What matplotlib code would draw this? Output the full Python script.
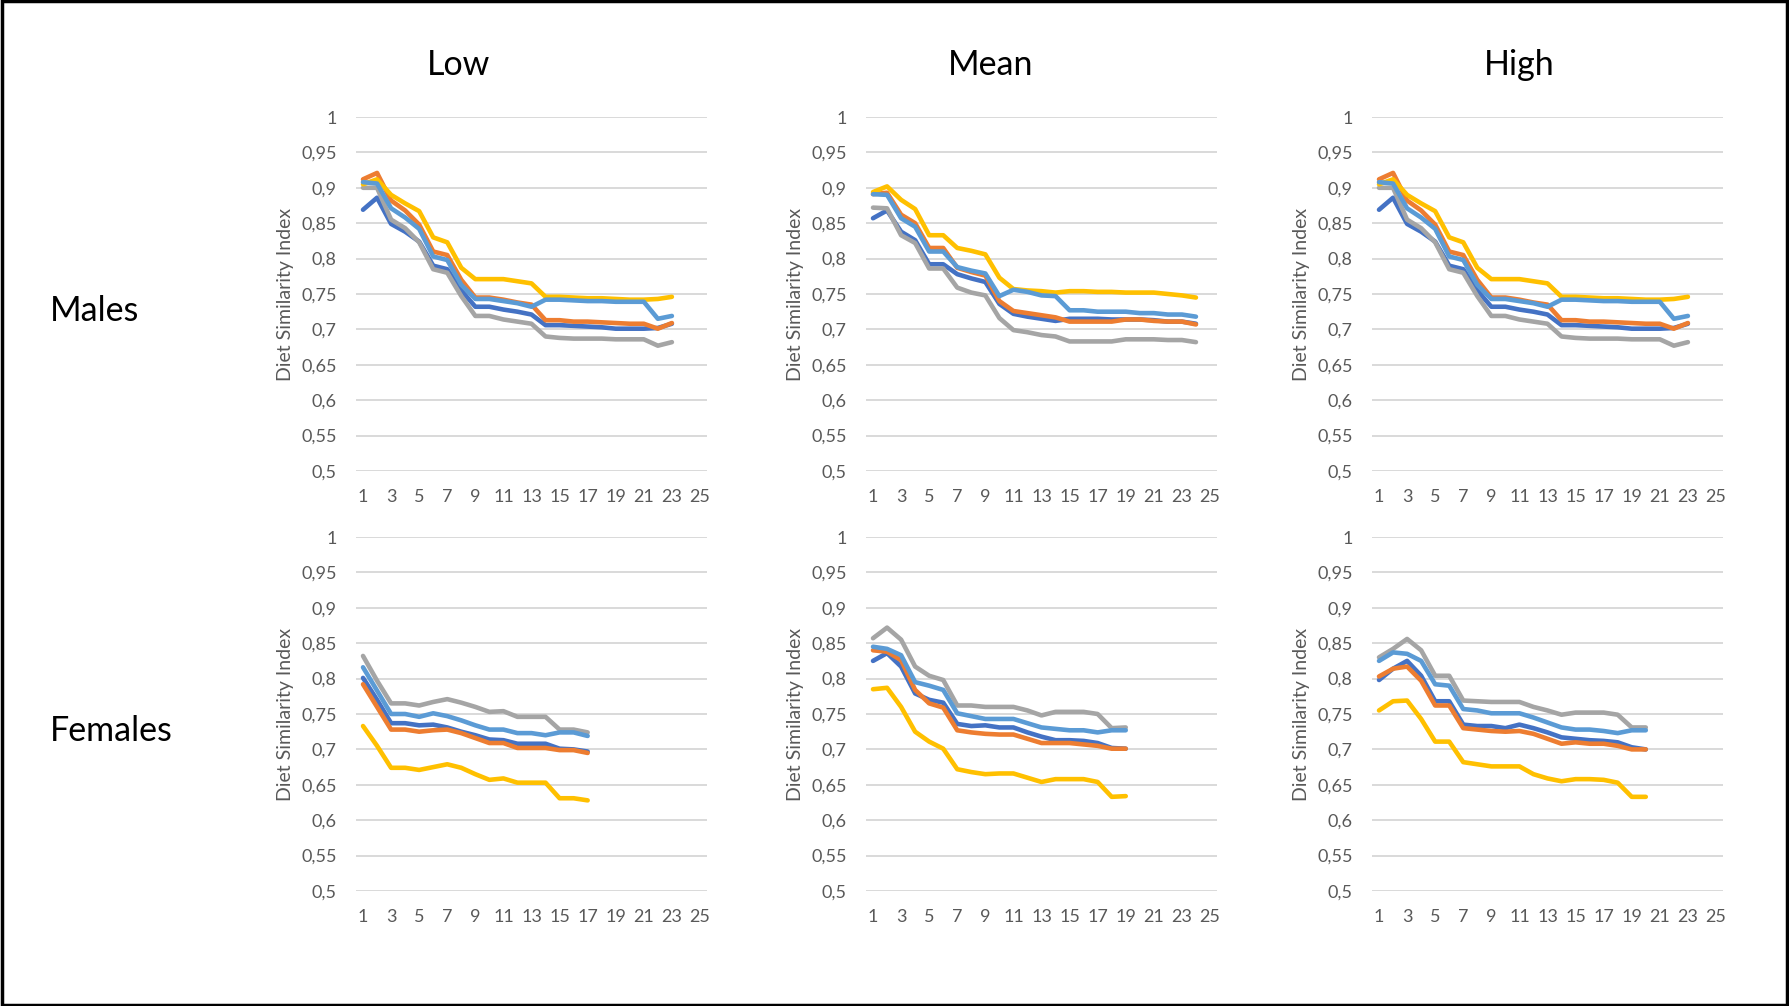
import numpy as np
import matplotlib.pyplot as plt
from matplotlib.patches import Rectangle

plt.rcParams['font.family'] = ['Lato', 'DejaVu Sans']

colors = ['#4472C4', '#ED7D31', '#A5A5A5', '#FFC000', '#5B9BD5']
col_titles = ['Low', 'Mean', 'High']
row_titles = ['Males', 'Females']
y_ticks = [0.5, 0.55, 0.6, 0.65, 0.7, 0.75, 0.8, 0.85, 0.9, 0.95, 1.0]
y_ticklabels = ['0,5', '0,55', '0,6', '0,65', '0,7', '0,75', '0,8', '0,85', '0,9', '0,95', '1']
x_ticks = list(range(1, 26, 2))

# males, low
m_low_blue = [0.869, 0.886, 0.849, 0.838, 0.824, 0.790, 0.785, 0.755, 0.732, 0.732, 0.728, 0.725,
              0.721, 0.706, 0.706, 0.705, 0.704, 0.703, 0.701, 0.701, 0.701, 0.702, 0.708]
m_low_orange = [0.912, 0.921, 0.882, 0.868, 0.848, 0.810, 0.805, 0.770, 0.745, 0.745, 0.742, 0.738,
                0.735, 0.713, 0.713, 0.711, 0.711, 0.710, 0.709, 0.708, 0.708, 0.701, 0.709]
m_low_gray = [0.900, 0.900, 0.855, 0.843, 0.823, 0.785, 0.780, 0.747, 0.719, 0.719, 0.714, 0.711,
              0.708, 0.690, 0.688, 0.687, 0.687, 0.687, 0.686, 0.686, 0.686, 0.677, 0.682]
m_low_yellow = [0.905, 0.912, 0.890, 0.878, 0.867, 0.830, 0.823, 0.787, 0.771, 0.771, 0.771, 0.768,
                0.765, 0.746, 0.746, 0.745, 0.744, 0.744, 0.743, 0.742, 0.742, 0.743, 0.746]
m_low_ltblue = [0.908, 0.906, 0.871, 0.858, 0.842, 0.803, 0.798, 0.763, 0.743, 0.743, 0.740, 0.737,
                0.732, 0.742, 0.742, 0.741, 0.740, 0.740, 0.739, 0.739, 0.739, 0.715, 0.719]

# males, mean
m_mean_blue = [0.857, 0.868, 0.838, 0.826, 0.792, 0.792, 0.778, 0.772, 0.767, 0.736, 0.722, 0.718,
               0.715, 0.712, 0.715, 0.715, 0.715, 0.714, 0.714, 0.714, 0.713, 0.711, 0.711, 0.708]
m_mean_orange = [0.891, 0.893, 0.862, 0.850, 0.815, 0.815, 0.787, 0.781, 0.776, 0.740, 0.726, 0.723,
                 0.720, 0.717, 0.711, 0.711, 0.711, 0.711, 0.714, 0.714, 0.712, 0.711, 0.711, 0.707]
m_mean_gray = [0.872, 0.871, 0.833, 0.822, 0.786, 0.786, 0.759, 0.752, 0.748, 0.716, 0.699, 0.696,
               0.692, 0.690, 0.683, 0.683, 0.683, 0.683, 0.686, 0.686, 0.686, 0.685, 0.685, 0.682]
m_mean_yellow = [0.894, 0.902, 0.883, 0.870, 0.833, 0.833, 0.815, 0.811, 0.806, 0.773, 0.757, 0.755,
                 0.754, 0.752, 0.754, 0.754, 0.753, 0.753, 0.752, 0.752, 0.752, 0.750, 0.748, 0.745]
m_mean_ltblue = [0.891, 0.890, 0.857, 0.845, 0.810, 0.810, 0.788, 0.783, 0.779, 0.747, 0.756, 0.753,
                 0.748, 0.747, 0.727, 0.727, 0.725, 0.725, 0.725, 0.723, 0.723, 0.721, 0.721, 0.718]

# males, high (same as low)
m_high_blue = m_low_blue
m_high_orange = m_low_orange
m_high_gray = m_low_gray
m_high_yellow = m_low_yellow
m_high_ltblue = m_low_ltblue

# females, low
f_low_blue = [0.801, 0.770, 0.737, 0.737, 0.734, 0.735, 0.731, 0.725, 0.720, 0.714, 0.713, 0.708,
              0.708, 0.708, 0.701, 0.700, 0.697]
f_low_orange = [0.792, 0.760, 0.728, 0.728, 0.725, 0.727, 0.728, 0.723, 0.716, 0.709, 0.709, 0.702,
                0.702, 0.702, 0.699, 0.699, 0.695]
f_low_gray = [0.832, 0.797, 0.765, 0.765, 0.762, 0.767, 0.771, 0.766, 0.760, 0.753, 0.754, 0.746,
              0.746, 0.746, 0.728, 0.728, 0.724]
f_low_yellow = [0.733, 0.705, 0.674, 0.674, 0.671, 0.675, 0.679, 0.674, 0.665, 0.657, 0.659, 0.653,
                0.653, 0.653, 0.631, 0.631, 0.628]
f_low_ltblue = [0.816, 0.783, 0.750, 0.750, 0.746, 0.751, 0.747, 0.741, 0.734, 0.728, 0.728, 0.723,
                0.723, 0.720, 0.724, 0.724, 0.719]

# females, mean
f_mean_blue = [0.825, 0.836, 0.817, 0.779, 0.770, 0.766, 0.736, 0.733, 0.734, 0.731, 0.731, 0.724,
               0.718, 0.713, 0.713, 0.712, 0.709, 0.702, 0.701]
f_mean_orange = [0.840, 0.838, 0.826, 0.784, 0.765, 0.759, 0.727, 0.724, 0.722, 0.721, 0.721, 0.715,
                 0.709, 0.709, 0.709, 0.707, 0.705, 0.701, 0.701]
f_mean_gray = [0.857, 0.872, 0.855, 0.817, 0.804, 0.798, 0.762, 0.762, 0.760, 0.760, 0.760, 0.755,
               0.748, 0.753, 0.753, 0.753, 0.750, 0.730, 0.731]
f_mean_yellow = [0.785, 0.787, 0.760, 0.725, 0.711, 0.701, 0.672, 0.668, 0.665, 0.666, 0.666, 0.660,
                 0.654, 0.658, 0.658, 0.658, 0.654, 0.633, 0.634]
f_mean_ltblue = [0.845, 0.842, 0.833, 0.795, 0.790, 0.784, 0.751, 0.747, 0.743, 0.743, 0.743, 0.737,
                 0.731, 0.729, 0.727, 0.727, 0.724, 0.727, 0.727]

# females, high
f_high_blue = [0.798, 0.814, 0.825, 0.804, 0.768, 0.768, 0.735, 0.733, 0.733, 0.730, 0.735, 0.730,
               0.724, 0.717, 0.715, 0.713, 0.712, 0.710, 0.703, 0.700]
f_high_orange = [0.803, 0.814, 0.817, 0.797, 0.762, 0.762, 0.730, 0.728, 0.726, 0.725, 0.726, 0.722,
                 0.715, 0.708, 0.710, 0.708, 0.708, 0.705, 0.700, 0.700]
f_high_gray = [0.830, 0.842, 0.856, 0.840, 0.804, 0.804, 0.769, 0.768, 0.767, 0.767, 0.767, 0.760,
               0.755, 0.749, 0.752, 0.752, 0.752, 0.749, 0.731, 0.731]
f_high_yellow = [0.755, 0.768, 0.769, 0.743, 0.711, 0.711, 0.682, 0.679, 0.676, 0.676, 0.676, 0.665,
                 0.659, 0.655, 0.658, 0.658, 0.657, 0.653, 0.633, 0.633]
f_high_ltblue = [0.825, 0.837, 0.835, 0.825, 0.792, 0.790, 0.757, 0.755, 0.751, 0.751, 0.751, 0.745,
                 0.738, 0.731, 0.728, 0.728, 0.726, 0.723, 0.727, 0.727]

panels = [
    [[m_low_blue, m_low_orange, m_low_gray, m_low_yellow, m_low_ltblue],
     [m_mean_blue, m_mean_orange, m_mean_gray, m_mean_yellow, m_mean_ltblue],
     [m_high_blue, m_high_orange, m_high_gray, m_high_yellow, m_high_ltblue]],
    [[f_low_blue, f_low_orange, f_low_gray, f_low_yellow, f_low_ltblue],
     [f_mean_blue, f_mean_orange, f_mean_gray, f_mean_yellow, f_mean_ltblue],
     [f_high_blue, f_high_orange, f_high_gray, f_high_yellow, f_high_ltblue]],
]

W, H = 1789, 1006
fig = plt.figure(figsize=(W / 100, H / 100), dpi=100)

lefts = [356, 866, 1372]
tops = [117, 537]
aw, ah = 351, 354

for r in range(2):
    for c in range(3):
        ax = fig.add_axes([lefts[c] / W, 1 - (tops[r] + ah) / H, aw / W, ah / H])
        for s, color in zip(panels[r][c], colors):
            x = np.arange(1, len(s) + 1)
            ax.plot(x, s, color=color, lw=3.3, solid_joinstyle='round', solid_capstyle='round')
        ax.set_xlim(0.5, 25.5)
        ax.set_ylim(0.5, 1.0)
        ax.set_yticks(y_ticks)
        ax.set_yticklabels(y_ticklabels)
        ax.set_xticks(x_ticks)
        ax.grid(axis='y', color='#D9D9D9', lw=1.4)
        ax.set_axisbelow(True)
        for sp in ax.spines.values():
            sp.set_visible(False)
        ax.tick_params(length=0, labelsize=13, labelcolor='#595959')
        ax.tick_params(axis='y', pad=14)
        ax.tick_params(axis='x', pad=13)
        ax.set_ylabel('Diet Similarity Index', fontsize=14, color='#595959')
        ax.yaxis.set_label_coords(-0.178, 0.5)

title_x = [459, 991, 1519]
for t, x in zip(col_titles, title_x):
    fig.text(x / W, 1 - 65 / H, t, fontsize=24.5, ha='center', va='center')

row_y = [311, 731]
for t, y in zip(row_titles, row_y):
    fig.text(50 / W, 1 - y / H, t, fontsize=24.5, ha='left', va='center')

fig.patches.append(Rectangle((0.001, 0.001), 0.998, 0.998, transform=fig.transFigure,
                             fill=False, edgecolor='black', lw=2.5))

fig.savefig('out.png', dpi=100)
